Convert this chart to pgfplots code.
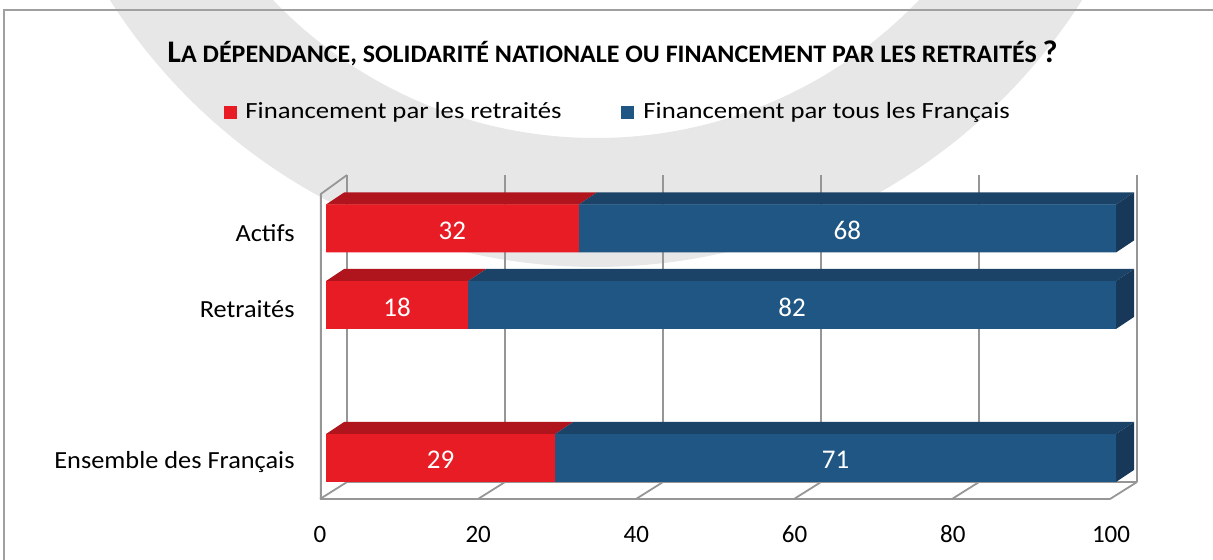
\documentclass[border=0pt]{standalone}
\usepackage{pgfplots}
\pgfplotsset{compat=1.18}
\usepackage{fontspec}
\setmainfont{Carlito}
\definecolor{redF}{RGB}{232,28,36}
\definecolor{redT}{RGB}{176,21,30}
\definecolor{blueF}{RGB}{32,86,131}
\definecolor{blueT}{RGB}{27,67,103}
\definecolor{blueS}{RGB}{23,56,88}
\definecolor{gridc}{RGB}{150,150,150}
\definecolor{wm}{RGB}{231,231,231}
\definecolor{framec}{RGB}{160,160,160}
\pgfplotsset{base/.style={at={(0,0)}, anchor=south west, scale only axis,
  width=606.5pt, height=280pt, xmin=-41.266, xmax=112.278,
  ymin=-1.3333, ymax=5.9869, hide axis, clip=false}}
\begin{document}
\begin{tikzpicture}
\path[use as bounding box] (0,0) rectangle (606.5pt,280pt);
\begin{scope}[x=0.5pt,y=-0.5pt,shift={(0pt,280pt)}]
  \clip (0,0) rectangle (1213,560);
  \fill[wm, even odd rule] (596,-309) circle[radius=288pt] (596,-309) circle[radius=223.5pt];
\end{scope}
\begin{scope}[x=0.5pt,y=-0.5pt,shift={(0pt,280pt)}]
  \draw[framec, line width=0.6pt] (4,560) -- (4,10) -- (1213,10);
  \node[anchor=base, inner sep=0pt, xscale=1.03] at (612.5,63) {\bfseries\fontsize{15.7}{18}\selectfont L\fontsize{12.6}{15}\selectfont A DÉPENDANCE, SOLIDARITÉ NATIONALE OU FINANCEMENT PAR LES RETRAITÉS \fontsize{15.7}{18}\selectfont ?};
  \fill[redF] (224,106) rectangle (237,119);
  \node[anchor=base west, inner sep=0pt, xscale=1.15] at (245,119) {\fontsize{11.6}{14}\selectfont Financement par les retraités};
  \fill[blueF] (621,106) rectangle (634,119);
  \node[anchor=base west, inner sep=0pt, xscale=1.15] at (643,119) {\fontsize{11.6}{14}\selectfont Financement par tous les Français};
  % tick labels
  \foreach \v [count=\i from 0] in {0,20,40,60,80,100}
    \node[anchor=base, inner sep=0pt] at ({320+158.2*\i},543) {\fontsize{12.5}{15}\selectfont \v};
  % category labels
  \node[anchor=base east, inner sep=0pt, xscale=1.07] at (295,242) {\fontsize{12.3}{15}\selectfont Actifs};
  \node[anchor=base east, inner sep=0pt, xscale=1.07] at (295,318) {\fontsize{12.3}{15}\selectfont Retraités};
  \node[anchor=base east, inner sep=0pt, xscale=1.07] at (295,469) {\fontsize{12.3}{15}\selectfont Ensemble des Français};
\end{scope}

% frame, walls and 3D faces
\begin{axis}[base]
  \draw[gridc, line width=0.9pt] (axis cs:2.66,-0.314) -- (axis cs:2.66,3.699);
  \draw[gridc, line width=0.9pt] (axis cs:22.66,-0.314) -- (axis cs:22.66,3.699);
  \draw[gridc, line width=0.9pt] (axis cs:42.66,-0.314) -- (axis cs:42.66,3.699);
  \draw[gridc, line width=0.9pt] (axis cs:62.66,-0.314) -- (axis cs:62.66,3.699);
  \draw[gridc, line width=0.9pt] (axis cs:82.66,-0.314) -- (axis cs:82.66,3.699);
  \draw[gridc, line width=0.9pt] (axis cs:102.66,-0.314) -- (axis cs:102.66,3.699);
  \draw[gridc, line width=0.9pt] (axis cs:2.66,-0.314) -- (axis cs:102.66,-0.314);
  \draw[gridc, line width=0.9pt] (axis cs:-0.76,-0.536) -- (axis cs:99.24,-0.536);
  \draw[gridc, line width=0.9pt] (axis cs:-0.76,-0.536) -- (axis cs:2.66,-0.314);
  \draw[gridc, line width=0.9pt] (axis cs:19.24,-0.536) -- (axis cs:22.66,-0.314);
  \draw[gridc, line width=0.9pt] (axis cs:39.24,-0.536) -- (axis cs:42.66,-0.314);
  \draw[gridc, line width=0.9pt] (axis cs:59.24,-0.536) -- (axis cs:62.66,-0.314);
  \draw[gridc, line width=0.9pt] (axis cs:79.24,-0.536) -- (axis cs:82.66,-0.314);
  \draw[gridc, line width=0.9pt] (axis cs:99.24,-0.536) -- (axis cs:102.66,-0.314);
  \draw[gridc, line width=0.9pt] (axis cs:-0.65,-0.536) -- (axis cs:-0.65,3.451) -- (axis cs:2.66,3.699);
  % top faces
  \addplot[fill=redT, draw=none] coordinates {(0,3.3135) (32,3.3135) (34.28,3.4705) (2.28,3.4705)};
  \addplot[fill=blueT, draw=none] coordinates {(32,3.3135) (100,3.3135) (102.28,3.4705) (34.28,3.4705)};
  \addplot[fill=blueS, draw=none] coordinates {(100,2.6865) (100,3.3135) (102.28,3.4705) (102.28,2.8435)};
  \addplot[fill=redT, draw=none] coordinates {(0,2.3135) (18,2.3135) (20.28,2.4705) (2.28,2.4705)};
  \addplot[fill=blueT, draw=none] coordinates {(18,2.3135) (100,2.3135) (102.28,2.4705) (20.28,2.4705)};
  \addplot[fill=blueS, draw=none] coordinates {(100,1.6865) (100,2.3135) (102.28,2.4705) (102.28,1.8435)};
  \addplot[fill=redT, draw=none] coordinates {(0,0.3135) (29,0.3135) (31.28,0.4705) (2.28,0.4705)};
  \addplot[fill=blueT, draw=none] coordinates {(29,0.3135) (100,0.3135) (102.28,0.4705) (31.28,0.4705)};
  \addplot[fill=blueS, draw=none] coordinates {(100,-0.3135) (100,0.3135) (102.28,0.4705) (102.28,-0.1565)};
\end{axis}

% front faces
\begin{axis}[base, xbar stacked, bar width=0.627]
  \addplot[fill=redF, draw=none] coordinates {(32,3) (18,2) (29,0)};
  \addplot[fill=blueF, draw=none] coordinates {(68,3) (82,2) (71,0)};
\end{axis}

% value labels
\begin{axis}[base]
  \addplot[only marks, mark=none, nodes near coords, point meta=explicit symbolic,
    every node near coord/.style={anchor=center, text=white, inner sep=0pt, yshift=-1pt, font=\fontsize{13.5}{16}\selectfont}]
    coordinates {(16,3) [32] (66,3) [68] (9,2) [18] (59,2) [82] (14.5,0) [29] (64.5,0) [71]};
\end{axis}
\end{tikzpicture}
\end{document}
